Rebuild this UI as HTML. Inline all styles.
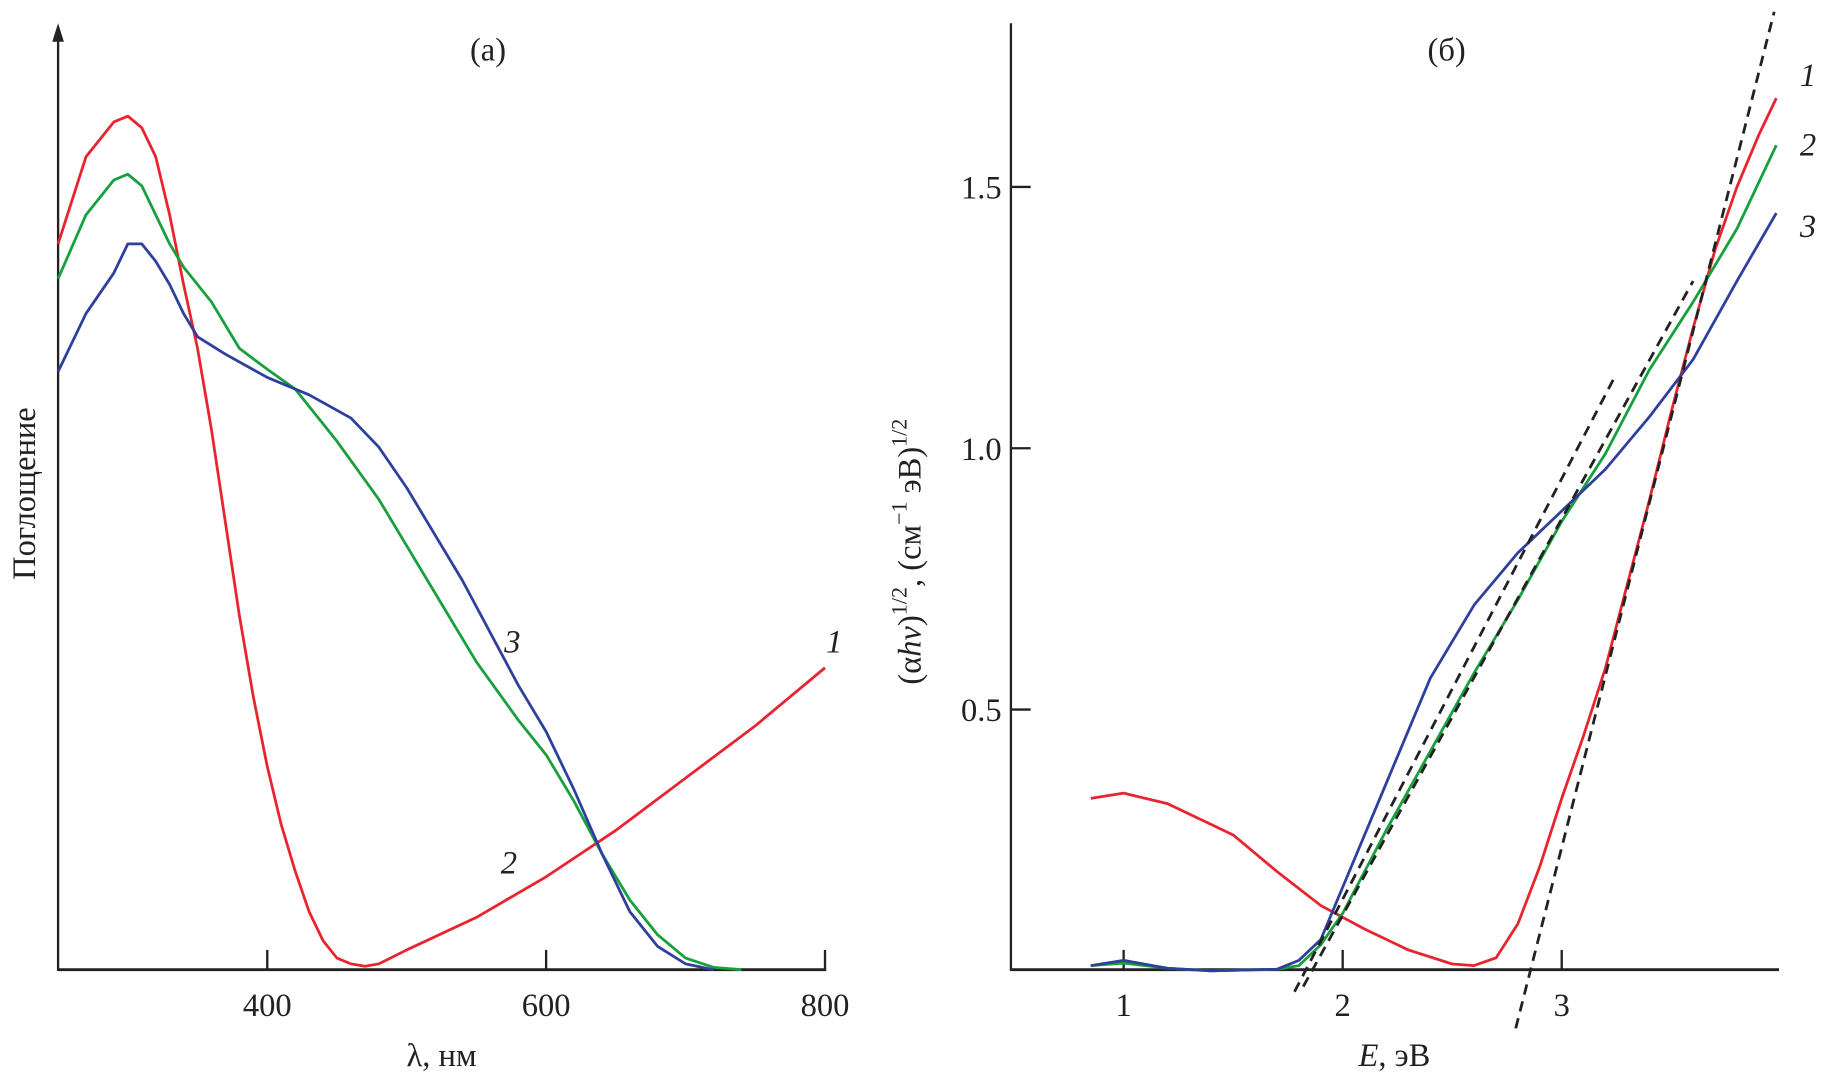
<!DOCTYPE html>
<html><head><meta charset="utf-8"><style>
html,body{margin:0;padding:0;background:#fff}
svg{display:block}
text{font-family:"Liberation Serif",serif;fill:#222}
</style></head><body>
<svg id="chart" width="1822" height="1080" viewBox="0 0 1568 930" preserveAspectRatio="none" xmlns="http://www.w3.org/2000/svg">
<g id="pa"></g>
<g id="pb"></g>
</svg>
<script>
// Panel (a): wavelength (nm) vs absorbance (arb.)
const aWave1=[250,270,290,300,310,320,330,340,350,360,370,380,390,400,410,420,430,440,450,460,470,480,500,550,600,650,700,750,800];
const aAbs1=[6.25,7.0,7.3,7.35,7.25,7.0,6.5,5.9,5.35,4.65,3.85,3.05,2.35,1.75,1.25,0.85,0.5,0.25,0.1,0.05,0.03,0.05,0.17,0.45,0.8,1.2,1.65,2.1,2.6];
const aWave2=[250,270,290,300,310,320,330,340,360,370,380,400,420,450,480,500,520,550,580,600,620,640,660,680,700,720,740];
const aAbs2=[5.95,6.5,6.8,6.85,6.75,6.5,6.25,6.05,5.75,5.55,5.35,5.17,5.0,4.55,4.05,3.65,3.25,2.65,2.15,1.85,1.45,1.0,0.6,0.3,0.1,0.02,0];
const aWave3=[250,270,290,300,310,320,330,340,350,370,400,430,460,480,500,520,540,560,580,600,620,640,660,680,700,720];
const aAbs3=[5.15,5.65,6.0,6.25,6.25,6.1,5.9,5.65,5.45,5.3,5.1,4.95,4.75,4.5,4.15,3.75,3.35,2.9,2.45,2.05,1.55,1.0,0.5,0.2,0.05,0];
const aTicks=[400,600,800];
// Panel (б): photon energy (eV) vs (αhν)^1/2
const bE1=[0.85,1.0,1.2,1.4,1.5,1.7,1.9,2.1,2.3,2.5,2.6,2.7,2.8,2.9,3.0,3.1,3.2,3.3,3.4,3.5,3.6,3.7,3.8,3.9,3.98];
const bV1=[0.33,0.34,0.32,0.28,0.26,0.19,0.125,0.08,0.04,0.013,0.01,0.025,0.09,0.2,0.33,0.45,0.58,0.74,0.9,1.07,1.23,1.38,1.5,1.6,1.67];
const bE2=[0.85,1.0,1.2,1.4,1.7,1.8,1.9,2.0,2.2,2.4,2.6,2.8,3.0,3.2,3.4,3.6,3.8,3.98];
const bV2=[0.01,0.015,0.005,0,0.003,0.01,0.05,0.11,0.27,0.42,0.57,0.71,0.86,0.99,1.15,1.28,1.42,1.58];
const bE3=[0.85,1.0,1.2,1.4,1.7,1.8,1.9,2.0,2.2,2.4,2.6,2.8,3.0,3.2,3.4,3.6,3.8,3.98];
const bV3=[0.01,0.02,0.005,0,0.003,0.02,0.06,0.16,0.36,0.56,0.7,0.8,0.88,0.96,1.06,1.17,1.32,1.45];
const bDashE=[[1.78,3.24],[1.82,3.6],[2.79,3.97]];
const bDashV=[[-0.04,1.135],[-0.03,1.32],[-0.11,1.835]];
const bXTicks=[1,2,3];
const bYTicks=[0.5,1.0,1.5];
const bYLabels=["0.5","1.0","1.5"];

const NS="http://www.w3.org/2000/svg";
function mk(parent,tag,attrs){const e=document.createElementNS(NS,tag);for(const k in attrs)e.setAttribute(k,attrs[k]);parent.appendChild(e);return e;}
const pa=document.getElementById('pa'), pb=document.getElementById('pb');
const ax=w=>50+(w-250)*1.2, ay=v=>835-v*100;
const bx=e=>967+(e-1)*188.5, by=v=>836-v*450;
function poly(g,xs,ys,fx,fy,col,name){const p=mk(g,'polyline',{points:xs.map((x,i)=>fx(x).toFixed(1)+','+fy(ys[i]).toFixed(1)).join(' '),fill:'none',stroke:col,'stroke-width':2.4,'stroke-linejoin':'round'});

}
function txt(g,x,y,s,name,extra){const t=mk(g,'text',Object.assign({x:x,y:y,'font-size':28,'text-anchor':'middle'},extra||{}));t.textContent=s;

return t;}
function ln(g,x1,y1,x2,y2,name,w){const l=mk(g,'line',{x1,y1,x2,y2,stroke:'#222','stroke-width':w||2});

return l;}
// panel a axes
ln(pa,50,30,50,836,'y-axis-a');
const arr=mk(pa,'polygon',{points:'50,20 45,36 55,36',fill:'#222'});


ln(pa,50,835,711,835,'x-axis-a',2.5);
aTicks.forEach(t=>{ln(pa,ax(t),835,ax(t),818,'x-tick-a');txt(pa,ax(t),875,String(t),'x-tick-label-a');});
txt(pa,380,918,'λ, нм','x-axis-title-a');
txt(pa,420,52,'(а)','panel-a-title');
txt(pa,0,0,'Поглощение','y-axis-title-a',{transform:'translate(30,425) rotate(-90)'});
poly(pa,aWave1,aAbs1,ax,ay,'#e8242f','curve-a-1');
poly(pa,aWave2,aAbs2,ax,ay,'#17a03c','curve-a-2');
poly(pa,aWave3,aAbs3,ax,ay,'#2e3f9e','curve-a-3');
txt(pa,441,562,'3','label-a-3',{'font-style':'italic'});
txt(pa,718,562,'1','label-a-1',{'font-style':'italic'});
txt(pa,438,752,'2','label-a-2',{'font-style':'italic'});
// panel b axes
ln(pb,870,20,870,836,'y-axis-b');
ln(pb,870,835,1531,835,'x-axis-b',2.5);
bXTicks.forEach(t=>{ln(pb,bx(t),835,bx(t),818,'x-tick-b');txt(pb,bx(t),875,String(t),'x-tick-label-b');});
bYTicks.forEach((t,i)=>{ln(pb,870,by(t),887,by(t),'y-tick-b');txt(pb,862,by(t)+10,bYLabels[i],'y-tick-label-b',{'text-anchor':'end'});});
txt(pb,1200,918,'','x-axis-title-b').innerHTML='<tspan font-style="italic">E</tspan>, эВ';
txt(pb,1245,52,'(б)','panel-b-title');
txt(pb,0,0,'','y-axis-title-b',{transform:'translate(792,475) rotate(-90)'}).innerHTML='(α<tspan font-style="italic">hν</tspan>)<tspan font-size="19" dy="-12">1/2</tspan><tspan dy="12">, (см</tspan><tspan font-size="19" dy="-12">−1</tspan><tspan dy="12"> эВ)</tspan><tspan font-size="19" dy="-12">1/2</tspan>';
poly(pb,bE1,bV1,bx,by,'#e8242f','curve-b-1');
poly(pb,bE2,bV2,bx,by,'#17a03c','curve-b-2');
poly(pb,bE3,bV3,bx,by,'#2e3f9e','curve-b-3');
bDashE.forEach((d,i)=>{const l=mk(pb,'line',{x1:bx(d[0]),y1:by(bDashV[i][0]),x2:bx(d[1]),y2:by(bDashV[i][1]),stroke:'#222','stroke-width':2.4,'stroke-dasharray':'9,6'});

});
txt(pb,1556,74,'1','label-b-1',{'font-style':'italic'});
txt(pb,1556,134,'2','label-b-2',{'font-style':'italic'});
txt(pb,1556,204,'3','label-b-3',{'font-style':'italic'});
</script>
</body></html>
